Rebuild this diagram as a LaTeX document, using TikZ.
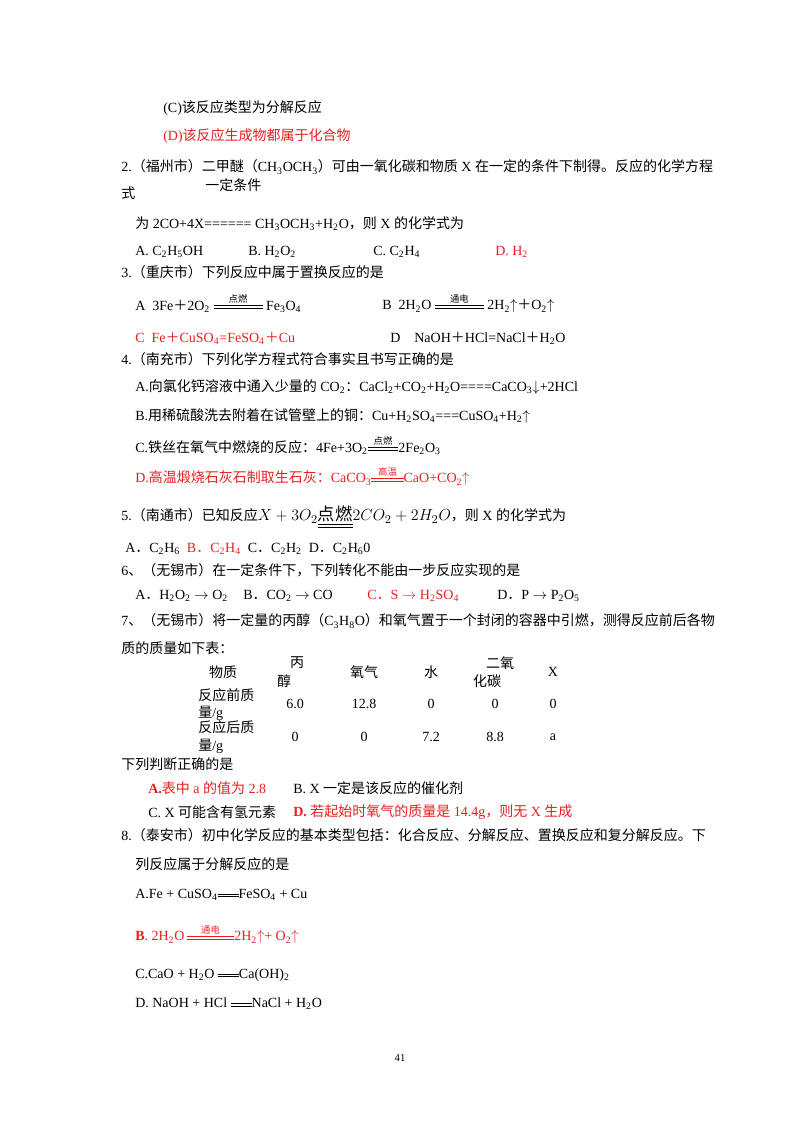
\documentclass[tikz,border=0pt]{standalone}
\usepackage{fontspec}
\setmainfont{Liberation Serif}
\newfontfamily\cjk{Noto Sans CJK SC}
\newfontfamily\latin{Liberation Serif}
\XeTeXinterchartokenstate=1
\newcount\cc
\cc="4E00 \loop \XeTeXcharclass\cc=7 \advance\cc 1 \ifnum\cc<"A000 \repeat
\cc="3000 \loop \XeTeXcharclass\cc=7 \advance\cc 1 \ifnum\cc<"3040 \repeat
\cc="FF00 \loop \XeTeXcharclass\cc=7 \advance\cc 1 \ifnum\cc<"FFF0 \repeat
\XeTeXinterchartoks 0 7 = {\cjk}
\XeTeXinterchartoks 4095 7 = {\cjk}
\XeTeXinterchartoks 7 0 = {\latin}
\XeTeXinterchartoks 7 4095 = {\latin}
\newcommand\sbx[1]{\textsubscript{#1}}
\newcommand\dbl[1]{\raisebox{.25ex}{\vbox{\hrule width #1 height .5pt \vskip1.3pt \hrule width #1 height .5pt}}}
\newcommand\eqc[2]{\ensuremath{\mathrel{\mathop{\dbl{#2}}\limits^{\hbox{\fontsize{7}{8}\selectfont\cjk #1}}}}}
\definecolor{rd}{RGB}{235,30,30}
\begin{document}
\begin{tikzpicture}[x=0.75pt,y=-0.75pt,
  t/.style={anchor=west,inner sep=0pt,font=\fontsize{10.5}{12}\selectfont},
  r/.style={t,text=rd},
  c/.style={anchor=center,inner sep=0pt,font=\fontsize{10.5}{12}\selectfont}]
\useasboundingbox (0,0) rectangle (800,1132);
\node[t] (l1) at (163,108) {(C)该反应类型为分解反应};
\node[r] (l2) at (163,136) {(D)该反应生成物都属于化合物};
\node[t] (q2) at (121,167) {2.（福州市）二甲醚（CH\sbx{3}OCH\sbx{3}）可由一氧化碳和物质 X 在一定的条件下制得。反应的化学方程};
\node[t] (q2c) at (205,185) {一定条件};
\node[t] (q2b) at (121,193) {式};
\node[t] (q2d) at (135,224) {为 2CO+4X====== CH\sbx{3}OCH\sbx{3}+H\sbx{2}O，则 X 的化学式为};
\node[t] (a2a) at (135,252) {A. C\sbx{2}H\sbx{5}OH};
\node[t] (a2b) at (248,252) {B. H\sbx{2}O\sbx{2}};
\node[t] (a2c) at (373,252) {C. C\sbx{2}H\sbx{4}};
\node[r] (a2d) at (495,252) {D. H\sbx{2}};
\node[t] (q3) at (121,272) {3.（重庆市）下列反应中属于置换反应的是};
\node[t] (a3a) at (135,303) {A\ \ 3Fe＋2O\sbx{2} \eqc{点燃}{3.5em} Fe\sbx{3}O\sbx{4}};
\node[t] (a3b) at (382,303) {B\ \ 2H\sbx{2}O \eqc{通电}{3.5em} 2H\sbx{2}$\uparrow$＋O\sbx{2}$\uparrow$};
\node[r] (a3c) at (135,338) {C\ \ Fe＋CuSO\sbx{4}=FeSO\sbx{4}＋Cu};
\node[t] (a3d) at (390,338) {D\ \ \ \ NaOH＋HCl=NaCl＋H\sbx{2}O};
\node[t] (q4) at (121,359) {4.（南充市）下列化学方程式符合事实且书写正确的是};
\node[t] (a4a) at (135,387) {A.向氯化钙溶液中通入少量的 CO\sbx{2}：CaCl\sbx{2}+CO\sbx{2}+H\sbx{2}O====CaCO\sbx{3}$\downarrow$+2HCl};
\node[t] (a4b) at (135,416) {B.用稀硫酸洗去附着在试管壁上的铜：Cu+H\sbx{2}SO\sbx{4}===CuSO\sbx{4}+H\sbx{2}$\uparrow$};
\node[t] (a4c) at (135,445) {C.铁丝在氧气中燃烧的反应：4Fe+3O\sbx{2}\eqc{点燃}{2.2em}2Fe\sbx{2}O\sbx{3}};
\node[r] (a4d) at (135,476) {D.高温煅烧石灰石制取生石灰：CaCO\sbx{3}\eqc{高温}{2.3em}CaO+CO\sbx{2}$\uparrow$};
\node[t] (q5) at (121,517) {5.（南通市）已知反应{\fontsize{13}{14}\selectfont$X+3O_2\underline{\underline{\hbox{\cjk 点燃}}}2CO_2+2H_2O$}，则 X 的化学式为};
\node[t] (a5) at (125,549) {A．C\sbx{2}H\sbx{6}\ \ \textcolor{rd}{B．C\sbx{2}H\sbx{4}}\ \ C．C\sbx{2}H\sbx{2}\ \ D．C\sbx{2}H\sbx{6}0};
\node[t] (q6) at (121,570) {6、（无锡市）在一定条件下，下列转化不能由一步反应实现的是};
\node[t] (a6a) at (135,596) {A．H\sbx{2}O\sbx{2} $\rightarrow$ O\sbx{2}};
\node[t] (a6b) at (243,596) {B．CO\sbx{2} $\rightarrow$ CO};
\node[r] (a6c) at (367,596) {C．S $\rightarrow$ H\sbx{2}SO\sbx{4}};
\node[t] (a6d) at (497,596) {D．P $\rightarrow$ P\sbx{2}O\sbx{5}};
\node[t] (q7) at (121,621) {7、（无锡市）将一定量的丙醇（C\sbx{3}H\sbx{8}O）和氧气置于一个封闭的容器中引燃，测得反应前后各物};
\node[t] (q7b) at (121,648) {质的质量如下表：};
% table
\node[c] (h1) at (223,672) {物质};
\node[c] (h2a) at (297,663) {丙};
\node[c] (h2b) at (284,681) {醇};
\node[c] (h3) at (364,672) {氧气};
\node[c] (h4) at (431,672) {水};
\node[c] (h5a) at (500,663) {二氧};
\node[c] (h5b) at (487,681) {化碳};
\node[c] (h6) at (553,672) {X};
\node[t] (r1a) at (198,695) {反应前质};
\node[t] (r1b) at (198,713) {量/g};
\node[c] (v11) at (295,704) {6.0};
\node[c] (v12) at (364,704) {12.8};
\node[c] (v13) at (431,704) {0};
\node[c] (v14) at (495,704) {0};
\node[c] (v15) at (553,704) {0};
\node[t] (r2a) at (198,727) {反应后质};
\node[t] (r2b) at (198,746) {量/g};
\node[c] (v21) at (295,737) {0};
\node[c] (v22) at (364,737) {0};
\node[c] (v23) at (431,737) {7.2};
\node[c] (v24) at (495,737) {8.8};
\node[c] (v25) at (553,737) {a};
\node[t] (q7c) at (121,764) {下列判断正确的是};
\node[r] (a7a) at (148,788) {\textbf{A.}表中 a 的值为 2.8};
\node[t] (a7b) at (293,788) {B. X 一定是该反应的催化剂};
\node[t] (a7c) at (148,812) {C. X 可能含有氢元素};
\node[r] (a7d) at (293,812) {\textbf{D.} 若起始时氧气的质量是 14.4g，则无 X 生成};
\node[t] (q8) at (121,835) {8.（泰安市）初中化学反应的基本类型包括：化合反应、分解反应、置换反应和复分解反应。下};
\node[t] (q8b) at (135,864) {列反应属于分解反应的是};
\node[t] (a8a) at (135,895) {A.Fe + CuSO\sbx{4}\dbl{1.5em}FeSO\sbx{4} + Cu};
\node[r] (a8b) at (135,934) {\textbf{B}. 2H\sbx{2}O\,\eqc{通电}{3.4em}2H\sbx{2}$\uparrow$+ O\sbx{2}$\uparrow$};
\node[t] (a8c) at (135,975) {C.CaO + H\sbx{2}O \dbl{1.5em}Ca(OH)\sbx{2}};
\node[t] (a8d) at (135,1004) {D. NaOH + HCl \dbl{1.5em}NaCl + H\sbx{2}O};
\node[c,font=\fontsize{8}{9}\selectfont] (pg) at (400,1058) {41};
\end{tikzpicture}
\end{document}
